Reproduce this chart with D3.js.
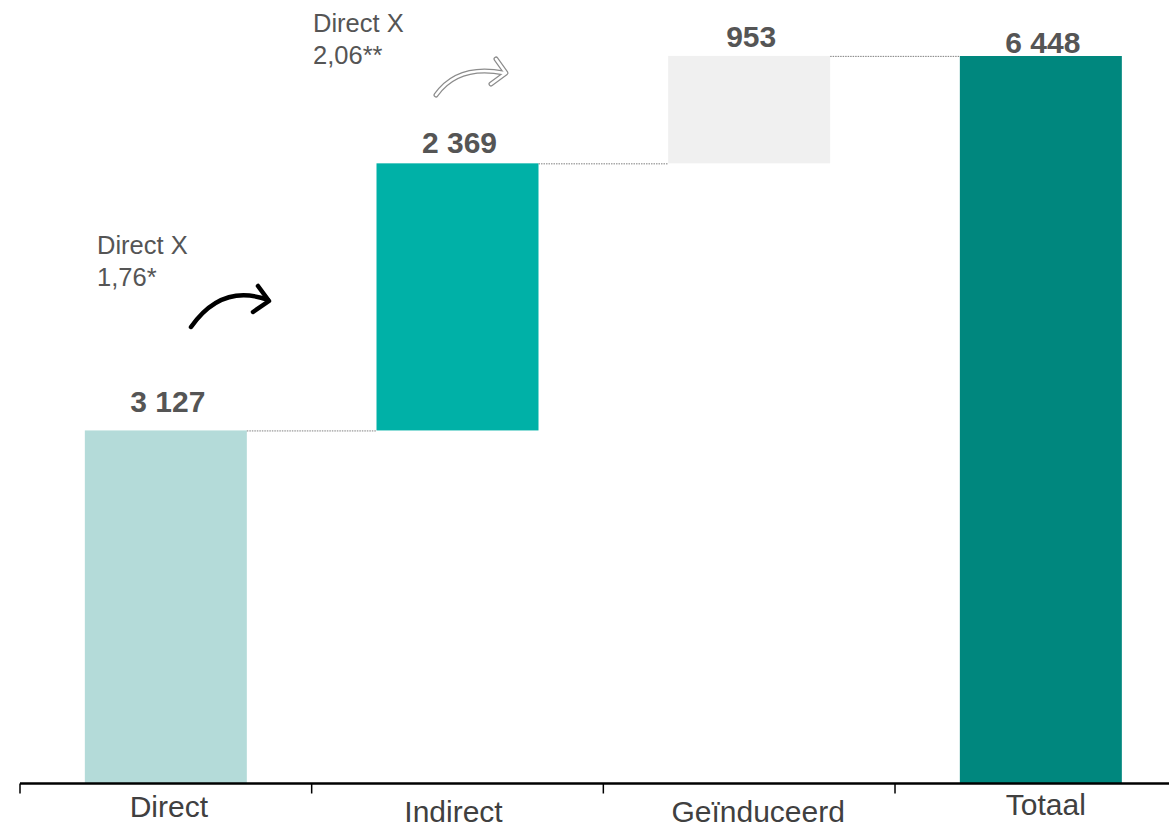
<!DOCTYPE html>
<html>
<head>
<meta charset="utf-8">
<script src="https://cdn.jsdelivr.net/npm/d3@7/dist/d3.min.js"></script>
<style>
  html, body { margin: 0; padding: 0; background: #fff; }
  svg { display: block; font-family: "Liberation Sans", Arial, sans-serif; }
</style>
</head>
<body>
<svg id="chart" width="1169" height="829"></svg>
<script>
// ---- data ----
const categories = ["Direct", "Indirect", "Geïnduceerd", "Totaal"];
const values = [3127, 2369, 953, 6448];
const isTotal = [false, false, false, true];
const valueLabels = ["3 127", "2 369", "953", "6 448"];
const barColors = ["#b4dbd9", "#00b1a7", "#f0f0f0", "#00877e"];
const multiplierLabels = [["Direct X", "1,76*"], ["Direct X", "2,06**"]];

// ---- layout ----
const W = 1169, H = 829;
const svg = d3.select("#chart");
const step = 291.67;
const x = d3.scaleBand()
  .domain(categories)
  .range([20, 20 + step * categories.length])
  .paddingInner(0.4446)
  .paddingOuter(0.4446 / 2);

// cumulative waterfall
let run = 0;
const bars = categories.map((c, i) => {
  let start, end;
  if (isTotal[i]) { start = 0; end = values[i]; run = values[i]; }
  else { start = run; end = run + values[i]; run = end; }
  return { cat: c, start, end, i };
});

const y = d3.scaleLinear().domain([0, 6448]).range([783, 56]);

// bars
svg.append("g").selectAll("rect").data(bars).join("rect")
  .attr("x", d => x(d.cat))
  .attr("width", x.bandwidth())
  .attr("y", d => y(Math.max(d.start, d.end)))
  .attr("height", d => Math.abs(y(d.start) - y(d.end)))
  .attr("fill", d => barColors[d.i]);

// connectors
const conn = bars.slice(0, -1).map((d, i) => ({ a: d, b: bars[i + 1] }));
svg.append("g").selectAll("line").data(conn).join("line")
  .attr("x1", d => x(d.a.cat) + x.bandwidth())
  .attr("x2", d => x(d.b.cat))
  .attr("y1", d => y(d.a.end) + 0.5)
  .attr("y2", d => y(d.a.end) + 0.5)
  .attr("stroke", "#7f7f7f")
  .attr("stroke-width", 1)
  .attr("stroke-dasharray", "1.5,1");

// value labels
const labelGap = [18, 10, 9, 3];
svg.append("g").selectAll("text").data(bars).join("text")
  .attr("x", d => x(d.cat) + x.bandwidth() / 2 + 2)
  .attr("y", d => y(Math.max(d.start, d.end)) - labelGap[d.i])
  .attr("text-anchor", "middle")
  .attr("font-size", 30)
  .attr("font-weight", "bold")
  .attr("fill", "#555555")
  .text(d => valueLabels[d.i]);

// axis
const axisY = 783.5;
const boundaries = categories.map(c => x(c) - x.step() * x.paddingInner() / 2);
const ax = svg.append("g");
ax.append("line")
  .attr("x1", boundaries[0]).attr("x2", W + 5)
  .attr("y1", axisY).attr("y2", axisY)
  .attr("stroke", "#000").attr("stroke-width", 2.5);
ax.selectAll("line.tick").data(boundaries).join("line")
  .attr("class", "tick")
  .attr("x1", d => d).attr("x2", d => d)
  .attr("y1", axisY).attr("y2", axisY + 10)
  .attr("stroke", "#000").attr("stroke-width", 1.5);
const catBaseline = [817, 822, 822, 815];
const catDx = [3, -4, 9, 5];
ax.selectAll("text").data(categories).join("text")
  .attr("x", (d, i) => x(d) + x.bandwidth() / 2 + catDx[i])
  .attr("y", (d, i) => catBaseline[i])
  .attr("text-anchor", "middle")
  .attr("font-size", 30)
  .attr("fill", "#404040")
  .text(d => d);

// multiplier annotations
const annPos = [[97, 254], [313, 32]];
multiplierLabels.forEach((lines, k) => {
  const t = svg.append("text")
    .attr("font-size", 25.5)
    .attr("fill", "#555555");
  lines.forEach((s, j) => {
    t.append("tspan")
      .attr("x", annPos[k][0])
      .attr("y", annPos[k][1] + j * 32)
      .text(s);
  });
});

// arrow 1 (solid black)
const a1 = svg.append("g").attr("fill", "none").attr("stroke", "#000")
  .attr("stroke-width", 4.5).attr("stroke-linecap", "round").attr("stroke-linejoin", "round");
a1.append("path").attr("d", "M191,327 Q222,283 268,300");
a1.append("path").attr("d", "M258,286 L269,301 L253,312");

// arrow 2 (outlined)
const a2paths = ["M436,95 Q458,64 504,73", "M496,59 L506,73 L491,84"];
[["#8c8c8c", 5], ["#ffffff", 2.6]].forEach(([col, w]) => {
  const g = svg.append("g").attr("fill", "none").attr("stroke", col)
    .attr("stroke-width", w).attr("stroke-linecap", "round").attr("stroke-linejoin", "round");
  a2paths.forEach(p => g.append("path").attr("d", p));
});
</script>
</body>
</html>
